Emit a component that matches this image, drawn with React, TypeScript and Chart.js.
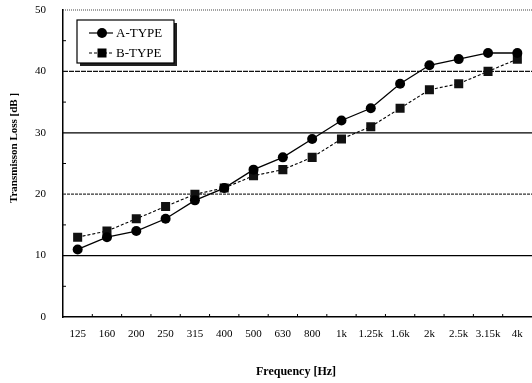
import React, { useEffect, useRef } from "react";
import { Chart, registerables } from "chart.js";

Chart.register(...registerables);

const categories = ["125", "160", "200", "250", "315", "400", "500", "630", "800", "1k", "1.25k", "1.6k", "2k", "2.5k", "3.15k", "4k"];
const aType = [11, 13, 14, 16, 19, 21, 24, 26, 29, 32, 34, 38, 41, 42, 43, 43];
const bType = [13, 14, 16, 18, 20, 21, 23, 24, 26, 29, 31, 34, 37, 38, 40, 42];
const seriesLabels = ["A-TYPE", "B-TYPE"];
const yTicks = [0, 10, 20, 30, 40, 50];
const xTitle = "Frequency [Hz]";
const yTitle = "Transmisson Loss [dB ]";

const FONT = "'Liberation Serif', 'DejaVu Serif', serif";

const gridStyles: Record<number, { dash: number[]; color: string; width: number }> = {
  10: { dash: [], color: "#000", width: 1.3 },
  20: { dash: [3, 1], color: "#333", width: 1.2 },
  30: { dash: [], color: "#000", width: 1.3 },
  40: { dash: [5, 1], color: "#111", width: 1.2 },
  50: { dash: [1, 1], color: "#444", width: 1 },
};

const decorPlugin = {
  id: "decor",
  beforeDatasetsDraw(chart: any) {
    const { ctx, chartArea } = chart;
    const y = chart.scales.y;
    const x = chart.scales.x;
    ctx.save();
    yTicks.forEach((v) => {
      const s = gridStyles[v];
      if (!s) return;
      const py = y.getPixelForValue(v);
      ctx.beginPath();
      ctx.setLineDash(s.dash);
      ctx.strokeStyle = s.color;
      ctx.lineWidth = s.width;
      ctx.moveTo(chartArea.left, py);
      ctx.lineTo(chartArea.right, py);
      ctx.stroke();
    });
    ctx.setLineDash([]);
    ctx.strokeStyle = "#000";
    ctx.lineWidth = 1;
    for (let v = 5; v < 50; v += 10) {
      const py = y.getPixelForValue(v);
      ctx.beginPath();
      ctx.moveTo(chartArea.left, py);
      ctx.lineTo(chartArea.left + 3, py);
      ctx.stroke();
    }
    for (let i = 0; i < categories.length - 1; i++) {
      const px = (x.getPixelForValue(i) + x.getPixelForValue(i + 1)) / 2;
      ctx.beginPath();
      ctx.moveTo(px, chartArea.bottom);
      ctx.lineTo(px, chartArea.bottom - 3);
      ctx.stroke();
    }
    ctx.restore();
  },
  afterDraw(chart: any) {
    const { ctx } = chart;
    ctx.save();
    ctx.fillStyle = "#000";
    ctx.font = `bold 12px ${FONT}`;
    ctx.textAlign = "center";
    ctx.textBaseline = "middle";
    ctx.fillText(xTitle, 296, 372);
    ctx.font = `bold 11px ${FONT}`;
    ctx.translate(14, 148);
    ctx.rotate(-Math.PI / 2);
    ctx.fillText(yTitle, 0, 0);
    ctx.setTransform(1, 0, 0, 1, 0, 0);

    const bx = 77, by = 20, bw = 97, bh = 43;
    ctx.fillStyle = "#222";
    ctx.fillRect(bx + 3, by + 3, bw, bh);
    ctx.fillStyle = "#fff";
    ctx.fillRect(bx, by, bw, bh);
    ctx.strokeStyle = "#000";
    ctx.lineWidth = 1.2;
    ctx.strokeRect(bx, by, bw, bh);

    const rows = [
      { y: 33, dash: [] as number[], shape: "circle" },
      { y: 53, dash: [3, 2], shape: "rect" },
    ];
    rows.forEach((r, i) => {
      ctx.beginPath();
      ctx.setLineDash(r.dash);
      ctx.lineWidth = 1.2;
      ctx.moveTo(89, r.y);
      ctx.lineTo(113, r.y);
      ctx.stroke();
      ctx.setLineDash([]);
      ctx.fillStyle = "#000";
      if (r.shape === "circle") {
        ctx.beginPath();
        ctx.arc(102, r.y, 5, 0, Math.PI * 2);
        ctx.fill();
      } else {
        ctx.fillRect(97.5, r.y - 4.5, 9, 9);
      }
      ctx.font = `13px ${FONT}`;
      ctx.textAlign = "left";
      ctx.textBaseline = "middle";
      ctx.fillText(seriesLabels[i], 116, r.y + 0.5);
    });
    ctx.restore();
  },
};

export default function App() {
  const ref = useRef<HTMLCanvasElement>(null);
  useEffect(() => {
    document.body.style.margin = "0";
    const chart = new Chart(ref.current!, {
      type: "line",
      data: {
        labels: categories,
        datasets: [
          {
            label: seriesLabels[0],
            data: aType,
            borderColor: "#000",
            backgroundColor: "#000",
            borderWidth: 1.3,
            pointStyle: "circle",
            pointRadius: 5,
            pointBorderWidth: 0,
            tension: 0,
          },
          {
            label: seriesLabels[1],
            data: bType,
            borderColor: "#000",
            backgroundColor: "#111",
            borderWidth: 1.1,
            borderDash: [3, 2],
            pointStyle: "rect",
            pointRadius: 6.4,
            pointBorderWidth: 0,
            tension: 0,
          },
        ],
      },
      options: {
        responsive: false,
        animation: false,
        layout: { padding: { top: 10, right: 0, left: 0, bottom: 0 }, autoPadding: false },
        plugins: { legend: { display: false }, tooltip: { enabled: false } },
        scales: {
          x: {
            offset: true,
            grid: { display: false, drawTicks: false },
            border: { display: true, color: "#000", width: 1.5 },
            ticks: {
              color: "#000",
              font: { family: FONT, size: 11 },
              padding: 11,
              maxRotation: 0,
              autoSkip: false,
            },
            afterFit: (s: any) => {
              s.height = 66;
              s.paddingLeft = 0;
              s.paddingRight = 0;
            },
          },
          y: {
            min: 0,
            max: 50,
            grid: { display: false, drawTicks: false },
            border: { display: true, color: "#000", width: 1.5 },
            ticks: {
              stepSize: 10,
              color: "#000",
              font: { family: FONT, size: 11 },
              padding: 17,
            },
            afterFit: (s: any) => {
              s.width = 63;
              s.paddingTop = 0;
              s.paddingBottom = 0;
            },
          },
        },
      },
      plugins: [decorPlugin],
    });
    return () => chart.destroy();
  }, []);
  return (
    <div style={{ position: "fixed", left: 0, top: 0, width: 532, height: 383, background: "#fff" }}>
      <canvas ref={ref} width={532} height={383} />
    </div>
  );
}
